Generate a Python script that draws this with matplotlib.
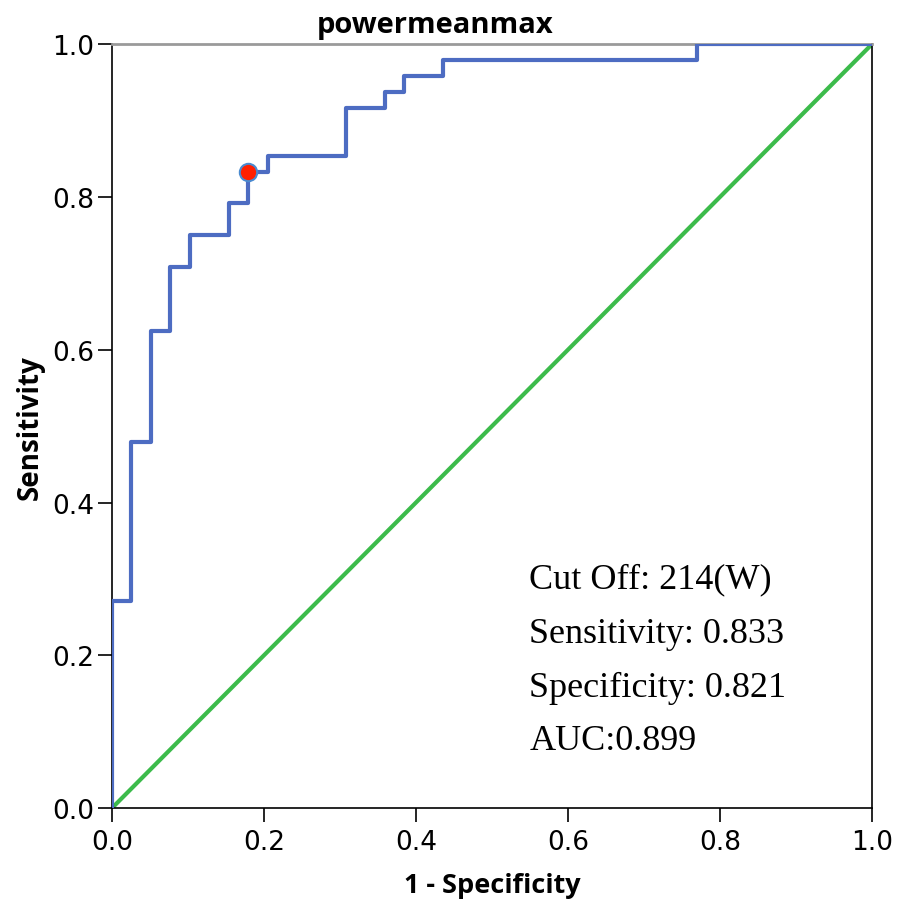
import matplotlib
matplotlib.use('Agg')
import matplotlib.pyplot as plt
import numpy as np

# ROC steps (1 - specificity, sensitivity)
fpr = [0.0, 0.0, 0.0256, 0.0256, 0.0513, 0.0513, 0.0769, 0.0769, 0.1026, 0.1026,
       0.1538, 0.1538, 0.1795, 0.1795, 0.2051, 0.2051, 0.3077, 0.3077, 0.3590, 0.3590,
       0.3846, 0.3846, 0.4359, 0.4359, 0.7692, 0.7692, 1.0]
tpr = [0.0, 0.2708, 0.2708, 0.4792, 0.4792, 0.625, 0.625, 0.7083, 0.7083, 0.75,
       0.75, 0.7917, 0.7917, 0.8333, 0.8333, 0.8542, 0.8542, 0.9167, 0.9167, 0.9375,
       0.9375, 0.9583, 0.9583, 0.9792, 0.9792, 1.0, 1.0]
cut_sens = 0.833
cut_spec = 0.821
notes = ['Cut Off: 214(W)', 'Sensitivity: 0.833', 'Specificity: 0.821', 'AUC:0.899']
ticks = [0.0, 0.2, 0.4, 0.6, 0.8, 1.0]

fig = plt.figure(figsize=(8.98, 9.04), dpi=100)
ax = fig.add_axes([0.1247, 0.105, 0.8463, 0.845])

ax.plot([0, 1], [0, 1], color='#3cbb4b', lw=3, zorder=2)
ax.plot(fpr, tpr, color='#4d6cc2', lw=3, zorder=3)
ax.plot([1 - cut_spec], [cut_sens], 'o', ms=12.5, mfc='#ff2000', mec='#4a8ad0',
        mew=1.5, zorder=4)

ax.set_xlim(0, 1)
ax.set_ylim(0, 1)
ax.set_xticks(ticks)
ax.set_yticks(ticks)
ax.set_xticklabels(['%.1f' % t for t in ticks])
ax.set_yticklabels(['%.1f' % t for t in ticks])

for lab in ax.get_xticklabels() + ax.get_yticklabels():
    lab.set_family(['DejaVu Sans'])
    lab.set_fontsize(19)
ax.tick_params(direction='out', length=10, width=1.2, colors='black', pad=3)
ax.tick_params(axis='x', pad=5)

for s in ['left', 'bottom', 'right']:
    ax.spines[s].set_color('black')
    ax.spines[s].set_linewidth(1.2)
ax.spines['top'].set_color('#9a9a9a')
ax.spines['top'].set_linewidth(2)

ax.set_xlabel('1 - Specificity', fontsize=19.5, fontweight='bold',
              family=['Open Sans', 'DejaVu Sans'], labelpad=12)
ax.set_ylabel('Sensitivity', fontsize=20, fontweight='bold',
              family=['Open Sans', 'DejaVu Sans'], labelpad=5)
fig.text(435 / 898, 1 - 25 / 904, 'powermeanmax', ha='center', va='center',
         fontsize=21, fontweight='bold', family=['Open Sans', 'DejaVu Sans'])

ys = [0.289, 0.217, 0.147, 0.077]
for t, y in zip(notes, ys):
    ax.text(0.549, y, t, fontsize=26, family=['Liberation Serif', 'DejaVu Serif'],
            va='baseline', ha='left')

fig.savefig('out.png', dpi=100)
